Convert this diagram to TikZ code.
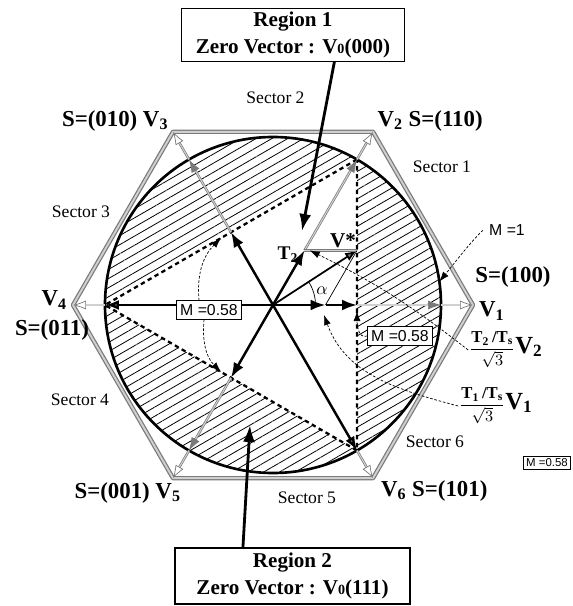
\documentclass[tikz,border=0pt]{standalone}
\usepackage{fontspec}
\setmainfont{Liberation Serif}
\setsansfont{Liberation Sans}
\usepackage{amsmath}
\usetikzlibrary{arrows.meta,patterns.meta,calc}
\definecolor{grau}{HTML}{7A7A7A}
\definecolor{hgrau}{HTML}{D0D0D0}
\tikzset{
  vec/.style={-{Latex[length=3mm,width=2.2mm]},black,line width=1.4pt},
  vecb/.style={-{Latex[length=2.8mm,width=2mm,fill=grau]},black,line width=1.4pt},
  vecg/.style={-{Latex[length=2.6mm,width=1.8mm]},grau,line width=0.4pt,double=hgrau,double distance=0.6pt},
  veco/.style={-{Latex[length=2.6mm,width=1.8mm,fill=white]},grau,line width=0.4pt,double=hgrau,double distance=0.6pt},
  pfeil/.style={-{Latex[length=3.4mm,width=2.4mm]},black,line width=1.6pt},
  hilf/.style={-{Latex[length=2mm,width=1.4mm]},black,line width=0.4pt,dash pattern=on 1.5pt off 1pt},
  sehne/.style={black,line width=1.3pt,dash pattern=on 2.5pt off 2pt},
  kreis/.style={black,line width=1.5pt},
  sechseck/.style={grau,line width=0.7pt,double=hgrau,double distance=1.1pt,line join=round},
  schraff/.style={pattern={Lines[angle=30,distance=4.5pt,line width=0.45pt]}},
  kasten/.style={draw,line width=0.7pt,fill=white,align=center,inner sep=2pt,font=\bfseries\fontsize{12}{15}\selectfont},
  mkasten/.style={draw,line width=0.5pt,fill=white,inner sep=2pt,font=\sffamily\fontsize{9}{10}\selectfont},
  lab/.style={font=\bfseries\fontsize{13}{15}\selectfont,inner sep=1pt},
  sektor/.style={font=\fontsize{10}{12}\selectfont},
}

\begin{document}
\begin{tikzpicture}
  \useasboundingbox (-5.46,-6.02) rectangle (6.0,6.1);
  % Punkte
  \coordinate (O) at (0,0);
  \foreach \i in {1,...,6} {
    \coordinate (E\i) at ({(\i-1)*60}:4);
    \coordinate (K\i) at ({(\i-1)*60}:3.36);
  }
  \coordinate (M1) at (0:1.68);
  \coordinate (M3) at (120:1.68);
  \coordinate (M5) at (240:1.68);
  \coordinate (T1) at (1.05,0);
  \coordinate (T2) at (60:1.26);
  \coordinate (Vs) at ($(T1)+(T2)$);
  % Bereiche
  \fill[schraff,even odd rule] (O) circle (3.36) (K2)--(K4)--(K6)--cycle;
  \draw[sehne] (K2)--(K4)--(K6)--cycle;
  \draw[kreis] (O) circle (3.36);
  \draw[sechseck] (E1)--(E2)--(E3)--(E4)--(E5)--(E6)--cycle;
  % Vektoren
  \foreach \i in {1,3,5} \draw[vecg] (M\i)--(K\i);
  \draw[vecg] (T2)--(K2);
  \foreach \i in {1,...,6} \draw[veco] (K\i)--(E\i);
  \draw[vec] (O)--(T1);
  \draw[vec] (T1)--(M1);
  \draw[vec] (O)--(T2);
  \draw[vec] (O)--(M3);
  \draw[vec] (O)--(M5);
  \draw[vecb] (O)--(K4);
  \draw[vecb] (O)--(K6);
  \draw[-{Latex[length=2.4mm,width=1.8mm,fill=grau]},line width=1pt] (O)--(Vs);
  \draw[grau,line width=0.5pt,double=hgrau,double distance=0.5pt] (T2)--(Vs);
  \draw[line width=0.4pt] (T1)--(Vs);
  \draw[line width=0.4pt] (0.85,0) arc (0:33:0.85);
  % Beschriftung
  \node[lab,anchor=west] (lV2) at (2.05,3.68) {V\textsubscript{2} S=(110)};
  \node[lab,anchor=east] (lV3) at (-2.05,3.68) {S=(010) V\textsubscript{3}};
  \node[lab,anchor=west] (lV1) at (4.08,-0.12) {V\textsubscript{1}};
  \node[lab] (lS1) at (4.8,0.56) {S=(100)};
  \node[lab,anchor=east] (lV4) at (-4.08,0.1) {V\textsubscript{4}};
  \node[lab] (lS4) at (-4.42,-0.5) {S=(011)};
  \node[lab,anchor=east] (lV5) at (-1.8,-3.76) {S=(001) V\textsubscript{5}};
  \node[lab,anchor=west] (lV6) at (2.12,-3.72) {V\textsubscript{6} S=(101)};
  \node[sektor] (s1) at (3.38,2.76) {Sector 1};
  \node[sektor] (s2) at (0.05,4.15) {Sector 2};
  \node[sektor] (s3) at (-3.84,1.86) {Sector 3};
  \node[sektor] (s4) at (-3.86,-1.9) {Sector 4};
  \node[sektor] (s5) at (0.68,-3.86) {Sector 5};
  \node[sektor] (s6) at (3.24,-2.74) {Sector 6};
  \node[font=\bfseries\fontsize{11}{12}\selectfont] (lT2) at (0.3,1.0) {T\textsubscript{2}};
  \node[font=\bfseries\fontsize{12}{13}\selectfont] (lVs) at (1.4,1.28) {V*};
  \node[font=\fontsize{10}{12}\selectfont] (la) at (0.98,0.28) {$\alpha$};
  \node[font=\bfseries\fontsize{9.5}{11}\selectfont,inner sep=0.5pt] (F2) at (4.66,-0.9)
    {$\dfrac{\mbox{T\textsubscript{2}\,/T\textsubscript{s}}}{\sqrt{3}}$\fontsize{14}{14}\selectfont V\textsubscript{2}};
  \node[font=\bfseries\fontsize{9.5}{11}\selectfont,inner sep=0.5pt] (F1) at (4.46,-2.02)
    {$\dfrac{\mbox{T\textsubscript{1}\,/T\textsubscript{s}}}{\sqrt{3}}$\fontsize{14}{14}\selectfont V\textsubscript{1}};
  \node[font=\sffamily\fontsize{9}{10}\selectfont] (lM1) at (4.68,1.5) {M =1};
  \node[mkasten] (L1) at (-1.28,-0.1) {M =0.58};
  \node[mkasten] (L2) at (2.54,-0.62) {M =0.58};
  \node[mkasten,font=\sffamily\fontsize{6.5}{7}\selectfont,inner sep=1.5pt] (L3) at (5.48,-3.16) {M =0.58};
  % Hinweislinien
  \coordinate (c2) at ($(K4)!0.46!(K2)$);
  \coordinate (c6) at ($(K4)!0.46!(K6)$);
  \coordinate (c1) at (1.68,-0.12);
  \coordinate (h2) at ($(T2)!0.1!(Vs)$);
  \coordinate (t1) at (1.02,-0.2);
  \coordinate (K8) at (8:3.36);
  \draw[hilf] ([xshift=-2mm]L1.north) to[out=95,in=225] (c2);
  \draw[hilf] ([xshift=-1mm]L1.south) to[out=-95,in=135] (c6);
  \draw[hilf] (L2.west) to[out=200,in=-90] (c1);
  \draw[hilf] (lM1.west) .. controls (3.9,1.2) and (3.6,0.8) .. (K8);
  \draw[hilf] (F2.west) to[bend right=6] (h2);
  \draw[hilf] (F1.west) to[out=165,in=-70] (t1);
  % Regionen
  \node[kasten,minimum width=4.46cm,minimum height=1cm] (R1) at (0.4,5.4)
    {Region 1\\Zero Vector : V{\fontsize{8}{8}\selectfont 0}(000)};
  \node[kasten,minimum width=4.7cm,minimum height=1.12cm] (R2) at (0.39,-5.42)
    {Region 2\\Zero Vector : V{\fontsize{8}{8}\selectfont 0}(111)};
  \coordinate (z1) at (0.58,1.48);
  \coordinate (z2) at (-0.46,-2.4);
  \draw[pfeil] (R1.-33)--(z1);
  \draw[pfeil] (R2.150)--(z2);
\end{tikzpicture}
\end{document}
